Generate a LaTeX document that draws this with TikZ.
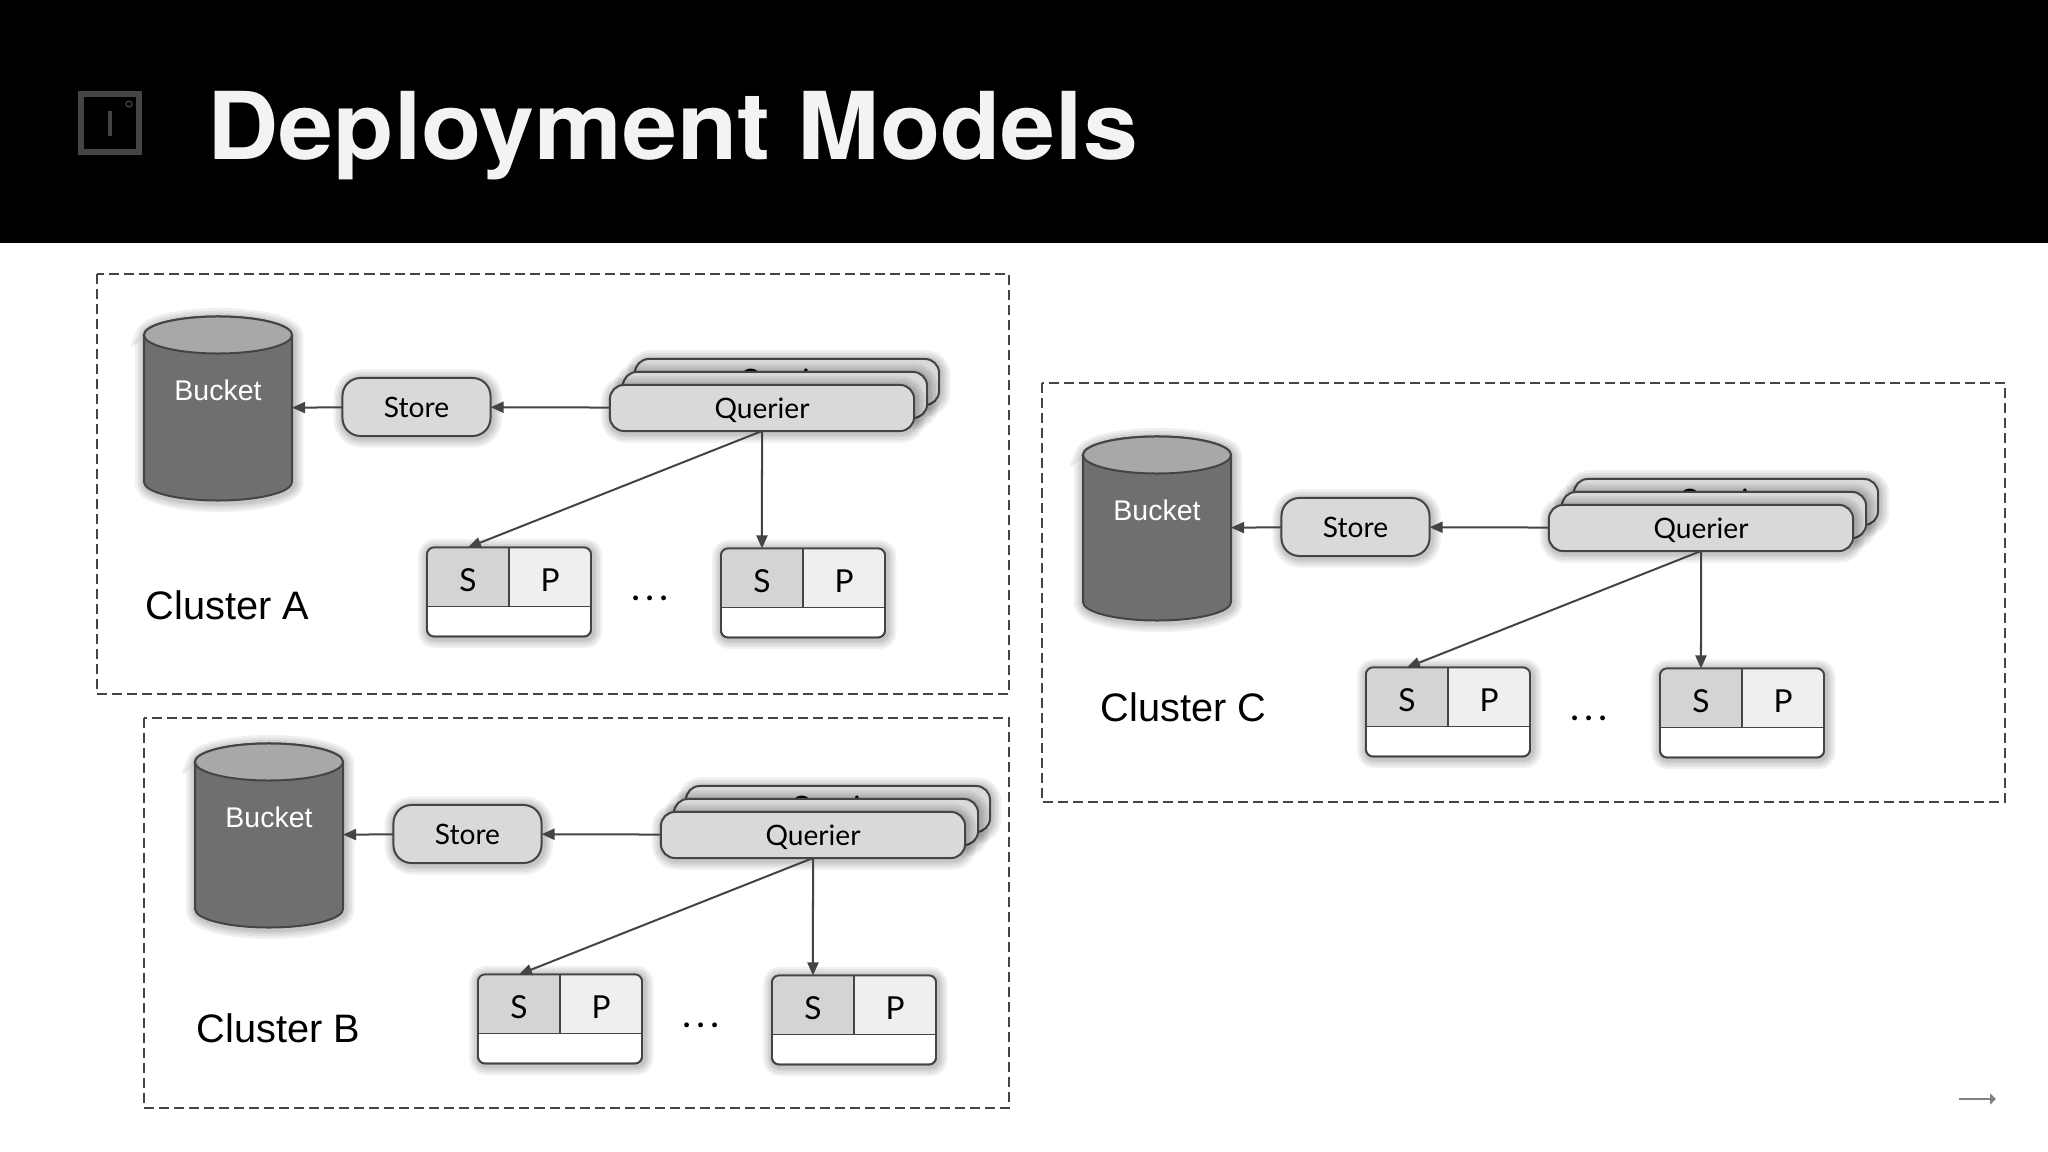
\documentclass[tikz,border=0pt]{standalone}
\usepackage{fontspec}
\setmainfont{Lato}
\newfontfamily\helv{Liberation Sans}
\newfontfamily\heros{TeX Gyre Heros}
\usetikzlibrary{shapes,arrows.meta}

\definecolor{linegray}{HTML}{444444}
\definecolor{bucketgray}{HTML}{6F6F6F}
\definecolor{bucketlid}{HTML}{A8A8A8}
\tikzset{
    shadowlayer/.style={preaction={draw=black,draw opacity=0.06,line width=#1,transform canvas={xshift=0.012cm,yshift=-0.015cm}}},
    softshadow/.style={shadowlayer=0.2cm,shadowlayer=0.15cm,shadowlayer=0.1cm,shadowlayer=0.06cm},
    frame/.style={draw=linegray,line width=0.02cm,dash pattern=on 0.1cm off 0.05cm},
    link/.style={draw=linegray,line width=0.02cm,-{Triangle[length=0.13cm,width=0.11cm]}},
    bucket/.style={minimum width=1.48cm,minimum height=1.84cm,inner sep=0pt,outer sep=0pt},
    bucketbody/.style={draw=linegray,line width=0.02cm,fill=bucketgray,softshadow},
    bucketend/.style={x radius=0.74cm,y radius=0.185cm},
    pill/.style={draw=linegray,line width=0.02cm,fill={rgb,255:red,217;green,217;blue,217},
        inner sep=0pt,outer sep=0pt,text height=6pt,text depth=0pt,font=\fontsize{8}{10}\selectfont,softshadow},
    store/.style={pill,rounded corners=0.18cm,minimum width=1.48cm,minimum height=0.58cm},
    querier/.style={pill,rounded corners=0.14cm,minimum width=3.04cm,minimum height=0.46cm},
    spbox/.style={draw=linegray,line width=0.018cm,fill=white,rounded corners=0.07cm,
        minimum width=1.64cm,minimum height=0.89cm,inner sep=0pt,outer sep=0pt,softshadow},
    spcell/.style={minimum width=0.82cm,minimum height=0.59cm,inner sep=0pt,outer sep=0pt,
        text height=8.5pt,text depth=0pt,font=\fontsize{9}{10}\selectfont},
    clusterlabel/.style={font=\helv\fontsize{11.3}{13}\selectfont,anchor=west,inner sep=0pt},
    bucketlabel/.style={font=\helv\fontsize{8.1}{10}\selectfont,text=white,inner sep=0pt},
}

\begin{document}
\begin{tikzpicture}[x=0.01cm,y=-0.01cm]
    \useasboundingbox (0,0) rectangle (2048,1152);
    \fill [white] (0,0) rectangle (2048,1152);

    % title bar
    \fill [black] (0,0) rectangle (2048,243);
    \draw [line width=0.06cm, linegray] (81,94) rectangle (139,152);
    \draw [line width=0.04cm, linegray] (110,111) -- (110,136);
    \draw [line width=0.012cm, linegray] (129,104) circle (3);
    \node[anchor=base west,inner sep=0pt,text={rgb,255:red,243;green,243;blue,243},font=\heros\bfseries\fontsize{26.6}{30}\selectfont] (title) at (207,160) {\scalebox{1.055}[1]{Deployment Models}};

    % frames
    \draw [frame] (97,274) rectangle (1009,694);
    \draw [frame] (144,718) rectangle (1009,1108);
    \draw [frame] (1042,383) rectangle (2005,802);

    % clusters
    \foreach \cname/\dx/\dy in {a/0/0,b/51/427,c/939/120} {
        \begin{scope}[shift={(\dx,\dy)}]
            \draw [bucketbody] (144,335) -- (144,482) arc[start angle=180,end angle=360,bucketend] -- (292,335) arc[start angle=0,end angle=180,bucketend] -- cycle;
            \draw [linegray,line width=0.02cm,fill=bucketlid] (218,335) ellipse [bucketend];
            \node[bucket] (\cname bucket) at (218,408) {};
            \node[bucketlabel] (\cname bucketlabel) at (218,390) {Bucket};
            \node[store] (\cname store) at (416.5,407) {Store};

            % stacked queriers
            \node[querier,text height=4pt] (\cname qback) at (787,382) {Querier};
            \node[querier] (\cname qmid) at (775,395) {};
            \node[querier] (\cname querier) at (762,408) {Querier};

            % S|P boxes
            \foreach \spname/\x/\y in {one/509/592,two/803/593} {
                \node[spbox] (\cname\spname) at (\x,\y) {};
                \begin{scope}
                    \clip [rounded corners=0.07cm] (\cname\spname.north west) rectangle (\cname\spname.south east);
                    \node[spcell,anchor=north east,fill={rgb,255:red,212;green,212;blue,212}] (\cname\spname s) at (\cname\spname.north) {S};
                    \node[spcell,anchor=north west,fill={rgb,255:red,239;green,239;blue,239}] (\cname\spname p) at (\cname\spname.north) {P};
                \end{scope}
                \draw [linegray,line width=0.018cm,rounded corners=0.07cm] (\cname\spname.north west) rectangle (\cname\spname.south east);
                \draw [linegray,line width=0.018cm] (\cname\spname s.north east) -- (\cname\spname s.south east);
                \draw [linegray,line width=0.018cm] (\cname\spname s.south west) -- (\cname\spname p.south east);
            }
            \node[inner sep=0pt,font=\fontsize{11}{13}\selectfont] (\cname dots) at (650,598) {.\kern1.4pt.\kern1.4pt.};

            \draw [link] (\cname store) -- (\cname bucket);
            \draw [link] (\cname querier) -- (\cname store);
            \draw [link] (\cname querier.south) -- (\cname ones.north);
            \draw [link] (\cname querier.south) -- (\cname twos.north);
        \end{scope}
    }

    \node[clusterlabel] (clustera) at (145,605) {Cluster A};
    \node[clusterlabel] (clusterb) at (196,1028) {Cluster B};
    \node[clusterlabel] (clusterc) at (1100,707) {Cluster C};

    % next arrow
    \coordinate (nextstart) at (1959,1099);
    \coordinate (nextend) at (1996,1099);
    \draw [draw=gray,line width=0.025cm,-{Triangle[length=0.06cm,width=0.11cm]}] (nextstart) -- (nextend);
\end{tikzpicture}
\end{document}
